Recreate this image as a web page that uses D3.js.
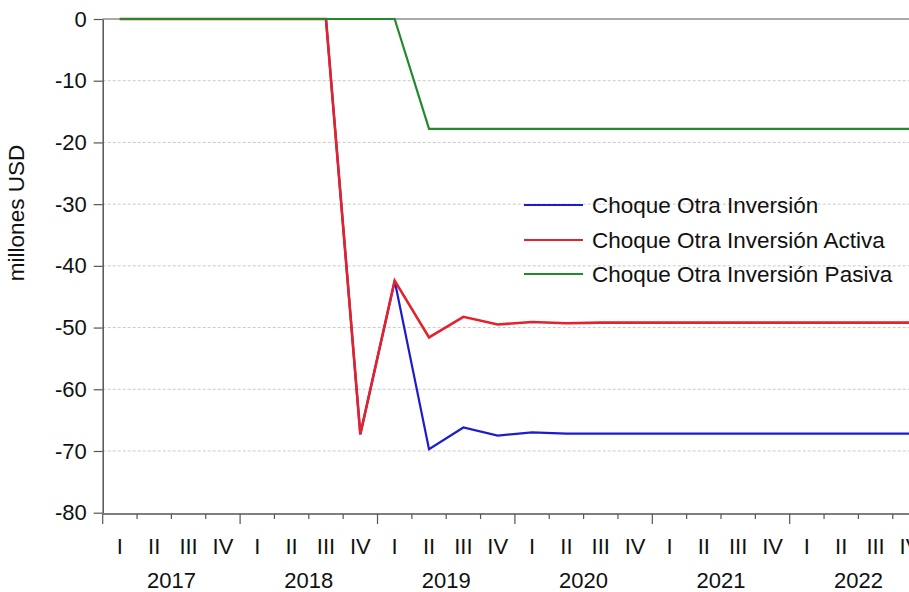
<!DOCTYPE html>
<html>
<head>
<meta charset="utf-8">
<script src="https://cdn.jsdelivr.net/npm/d3@7"></script>
<style>
  html, body { margin: 0; padding: 0; background: #fff; }
  svg { display: block; font-family: "Liberation Sans", Arial, sans-serif; }
</style>
</head>
<body>
<svg id="chart" width="909" height="592"></svg>
<script>
// ---- data ----
const years = ["2017", "2018", "2019", "2020", "2021", "2022"];
const quarterLabels = ["I", "II", "III", "IV"];
const quarters = years.flatMap(y => quarterLabels.map(q => y + "Q" + q));

const seriesNames = ["Choque Otra Inversión", "Choque Otra Inversión Activa", "Choque Otra Inversión Pasiva"];
const seriesColors = ["#1c1ccf", "#e3222b", "#238a2c"];

const choqueOtraInversion = [0, 0, 0, 0, 0, 0, 0, -67.3, -42.4, -69.7, -66.2, -67.5,
  -67.0, -67.2, -67.2, -67.2, -67.2, -67.2, -67.2, -67.2, -67.2, -67.2, -67.2, -67.2];
const choqueActiva = [0, 0, 0, 0, 0, 0, 0, -67.3, -42.4, -51.6, -48.25, -49.5,
  -49.1, -49.3, -49.2, -49.2, -49.2, -49.2, -49.2, -49.2, -49.2, -49.2, -49.2, -49.2];
const choquePasiva = [0, 0, 0, 0, 0, 0, 0, 0, 0, -17.8, -17.8, -17.8,
  -17.8, -17.8, -17.8, -17.8, -17.8, -17.8, -17.8, -17.8, -17.8, -17.8, -17.8, -17.8];
const seriesValues = [choqueOtraInversion, choqueActiva, choquePasiva];

const yTicks = [0, -10, -20, -30, -40, -50, -60, -70, -80];
const yLabel = "millones USD";

// ---- layout ----
const svg = d3.select("#chart");
const plotLeft = 102.7, qStep = 34.35, plotTop = 19, plotBottom = 512.7;
const x = d3.scaleBand().domain(quarters).range([plotLeft, plotLeft + qStep * quarters.length]).padding(0);
const y = d3.scaleLinear().domain([-80, 0]).range([plotBottom, plotTop]);
const xc = q => x(q) + x.bandwidth() / 2;
const axisColor = "#555";
const textColor = "#111";

// grid
svg.append("g").selectAll("line").data(yTicks.filter(t => t !== 0 && t !== -80)).join("line")
  .attr("x1", plotLeft).attr("x2", 909)
  .attr("y1", d => y(d)).attr("y2", d => y(d))
  .attr("stroke", "#c9c9c9").attr("stroke-width", 1).attr("stroke-dasharray", "3,2");

// top frame line
svg.append("line").attr("x1", plotLeft).attr("x2", 909).attr("y1", y(0)).attr("y2", y(0))
  .attr("stroke", axisColor).attr("stroke-width", 1.2);

// y axis
const yAxis = d3.axisLeft(y).tickValues(yTicks).tickSize(9).tickSizeOuter(0).tickPadding(7)
  .tickFormat(d => String(d));
const gy = svg.append("g").attr("transform", `translate(${plotLeft},0)`).call(yAxis);
gy.select(".domain").attr("stroke", axisColor).attr("stroke-width", 1.5);
gy.selectAll(".tick line").attr("stroke", axisColor).attr("stroke-width", 1.2);
gy.selectAll(".tick text").attr("font-size", 22).attr("fill", textColor)
  .attr("font-family", "Liberation Sans, Arial, sans-serif");

// x axis
const xAxisY = plotBottom + 1.3;
svg.append("line").attr("x1", plotLeft).attr("x2", 909).attr("y1", xAxisY).attr("y2", xAxisY)
  .attr("stroke", axisColor).attr("stroke-width", 1.5);
const boundaries = d3.range(quarters.length + 1);
svg.append("g").selectAll("line").data(boundaries).join("line")
  .attr("x1", i => plotLeft + i * x.step()).attr("x2", i => plotLeft + i * x.step())
  .attr("y1", xAxisY).attr("y2", i => xAxisY + (i % 4 === 0 ? 10 : 5))
  .attr("stroke", axisColor).attr("stroke-width", 1.2);

// quarter labels
svg.append("g").selectAll("text").data(quarters).join("text")
  .attr("x", d => xc(d)).attr("y", 554)
  .attr("text-anchor", "middle").attr("font-size", 22).attr("fill", textColor)
  .text(d => d.split("Q")[1]);

// year labels
svg.append("g").selectAll("text").data(years).join("text")
  .attr("x", d => (x(d + "QI") + x(d + "QIV") + x.bandwidth()) / 2).attr("y", 588)
  .attr("text-anchor", "middle").attr("font-size", 22).attr("fill", textColor)
  .text(d => d);

// y label
svg.append("text").attr("transform", "translate(24,213) rotate(-90)")
  .attr("text-anchor", "middle").attr("font-size", 22.5).attr("fill", textColor).text(yLabel);

// lines
const line = d3.line().x((d, i) => xc(quarters[i])).y(d => y(d));
svg.append("g").selectAll("path").data(seriesValues).join("path")
  .attr("d", d => line(d)).attr("fill", "none")
  .attr("stroke", (d, i) => seriesColors[i]).attr("stroke-width", (d, i) => i === 1 ? 2.6 : 2.2)
  .attr("stroke-linejoin", "miter");

// legend
const legend = svg.append("g");
const legY = [205, 240, 274];
seriesNames.forEach((name, i) => {
  legend.append("line").attr("x1", 524).attr("x2", 583).attr("y1", legY[i]).attr("y2", legY[i])
    .attr("stroke", seriesColors[i]).attr("stroke-width", 2);
  legend.append("text").attr("x", 592).attr("y", legY[i] + 8)
    .attr("font-size", 22.5).attr("fill", textColor).text(name);
});
</script>
</body>
</html>
